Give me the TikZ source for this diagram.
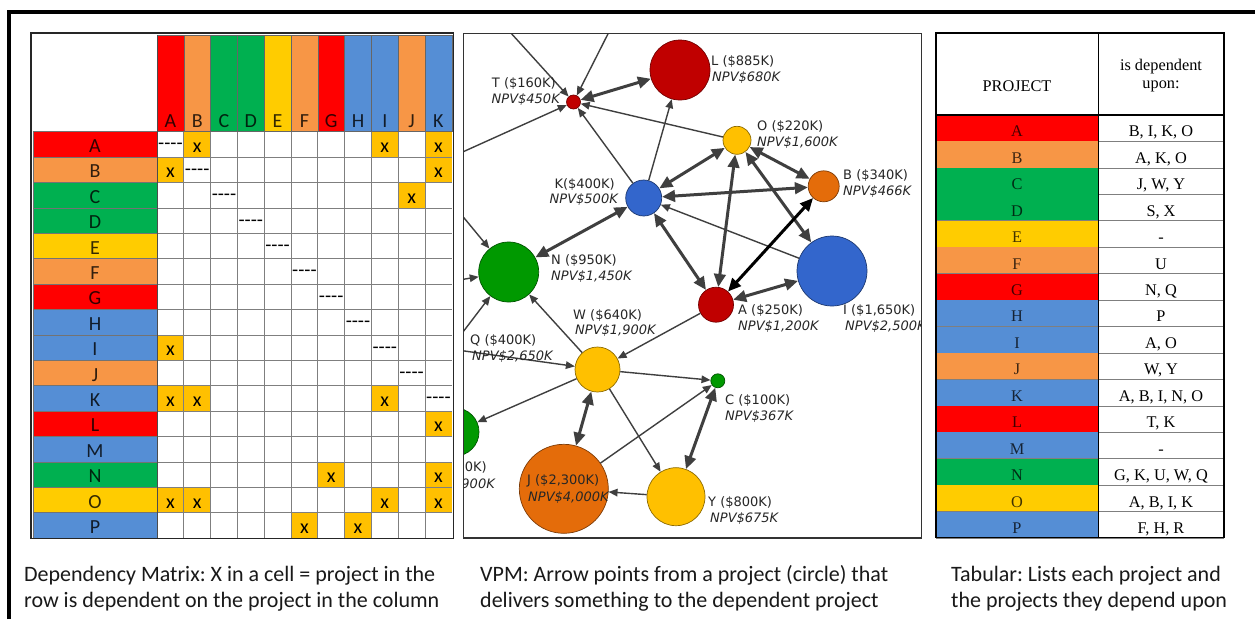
\documentclass[tikz,border=0pt]{standalone}
\usepackage{fontspec}
\setmainfont{Carlito}
\newfontfamily\netfont{DejaVu Sans}
\newfontfamily\tabfont{Liberation Serif}
\usetikzlibrary{arrows.meta}
\frenchspacing
\definecolor{mRed}{HTML}{FF0000}
\definecolor{mOrg}{HTML}{F79646}
\definecolor{mGrn}{HTML}{00B050}
\definecolor{mYel}{HTML}{FFCC00}
\definecolor{mBlu}{HTML}{558ED5}
\definecolor{mX}{HTML}{FFC000}
\definecolor{gridc}{HTML}{7F7F7F}
\definecolor{nRed}{HTML}{C00000}
\definecolor{nYel}{HTML}{FFC000}
\definecolor{nOrg}{HTML}{E46C0A}
\definecolor{nBlu}{HTML}{3366CC}
\definecolor{nGrn}{HTML}{009900}
\definecolor{edgec}{HTML}{3F3F3F}
\tikzset{
  mlet/.style={font=\fontsize{20}{23}\selectfont, inner sep=0, text=black},
  clet/.style={mlet, text opacity=0.8},
  vnode/.style={circle, draw, line width=0.7, inner sep=0, minimum size=#1},
  vlab/.style={font=\netfont\fontsize{13}{16}\selectfont, inner sep=0, text=black!85},
  vlabi/.style={vlab, font=\netfont\itshape\fontsize{13}{16}\selectfont},
  thin1/.style={draw=edgec, line width=1.4, -{Triangle[length=9,width=7.5]}},
  thick2/.style={draw=edgec, line width=3, {Triangle[length=13,width=11.5]}-{Triangle[length=13,width=11.5]}},
  tlet/.style={font=\tabfont\fontsize{16.3}{19}\selectfont, inner sep=0, text=black},
  captxt/.style={font=\fontsize{22}{26}\selectfont, inner sep=0, text=black!90, anchor=base west},
}
\begin{document}
\begin{tikzpicture}[x=1pt,y=-1pt]
\useasboundingbox (0,0) rectangle (1255,619);
\fill[white] (0,0) rectangle (1255,619);
% outer frame
\draw[line width=3.5] (9,619) -- (9,12) -- (1255,12);

% ================= MATRIX =================
\foreach \c/\l [count=\i from 0] in {mRed/A,mOrg/B,mGrn/C,mGrn/D,mYel/E,mOrg/F,mRed/G,mBlu/H,mBlu/I,mOrg/J,mBlu/K} {
  \path[fill=\c, draw=black!60, line width=0.6] (157+\i*26.8,35) rectangle (157+\i*26.8+26.8,131.7);
  \node[clet, anchor=base] (ch\l) at (157+\i*26.8+13.4,127) {\l};
}
\foreach \c/\l [count=\j from 0] in {mRed/A,mOrg/B,mGrn/C,mGrn/D,mYel/E,mOrg/F,mRed/G,mBlu/H,mBlu/I,mOrg/J,mBlu/K,mRed/L,mBlu/M,mGrn/N,mYel/O,mBlu/P} {
  \path[fill=\c, draw=black!55, line width=0.6] (33,131.7+\j*25.4) rectangle (157,131.7+\j*25.4+25.4);
  \node[clet, anchor=base] (rh\l) at (95,131.7+\j*25.4+20.8) {\l};
}
\foreach \r/\c in {0/1,0/8,0/10,1/0,1/10,2/9,8/0,10/0,10/1,10/8,11/10,13/6,13/10,14/0,14/1,14/8,14/10,15/5,15/7} {
  \fill[mX] (157+\c*26.8,131.7+\r*25.4) rectangle ++(26.8,25.4);
  \node[mlet, anchor=base] (x\r c\c) at (157+\c*26.8+13.4,131.7+\r*25.4+20.8) {x};
}
\foreach \i in {1,...,10} \draw[gridc, line width=0.8] (157+\i*26.8,131.7) -- (157+\i*26.8,538.1);
\foreach \j in {1,...,15} \draw[gridc, line width=0.8] (157,131.7+\j*25.4) -- (451.8,131.7+\j*25.4);
\draw[black!70, line width=0.8] (157,35) -- (157,538.1);
\foreach \k in {0,...,10} \node[mlet] (dg\k) at (157+\k*26.8+13.4,131.7+\k*25.4+15) {-{}-{}-{}-};
\draw[line width=1.8, black!85] (31,33) rectangle (453.5,538.5);

% ================= NETWORK =================
\begin{scope}
\clip (463.5,33.5) rectangle (921.5,538);
\node[vnode=14, fill=nRed, draw=nRed!60!black] (T) at (573.5,102) {};
\node[vnode=60, fill=nRed, draw=nRed!60!black] (L) at (680,70) {};
\node[vnode=28, fill=nYel, draw=nYel!55!black] (O) at (737,140.3) {};
\node[vnode=31, fill=nOrg, draw=nOrg!55!black] (B) at (823.7,186.3) {};
\node[vnode=36, fill=nBlu, draw=nBlu!55!black] (K) at (643.7,198) {};
\node[vnode=70, fill=nBlu, draw=nBlu!55!black] (I) at (832,271) {};
\node[vnode=35, fill=nRed, draw=nRed!60!black] (A) at (716,304.7) {};
\node[vnode=60, fill=nGrn, draw=nGrn!55!black] (N) at (508.7,272) {};
\node[vnode=45, fill=nYel, draw=nYel!55!black] (W) at (597.5,369.5) {};
\node[vnode=14, fill=nGrn, draw=nGrn!55!black] (C) at (717.8,380.8) {};
\node[vnode=89, fill=nOrg, draw=nOrg!55!black] (J) at (563.8,488.8) {};
\node[vnode=58, fill=nYel, draw=nYel!55!black] (Y) at (676,496.7) {};
\node[vnode=26, fill=nGrn, draw=nGrn!55!black] (Q) at (450,349) {};
\node[vnode=48, fill=nGrn, draw=nGrn!55!black] (G2) at (455,432) {};
\coordinate (p1) at (500,21);
\coordinate (p2) at (614.5,21);
\coordinate (p3) at (450,157.7);
\coordinate (p4) at (450,200.9);
\coordinate (p5) at (440,283);
% thin edges
\draw[thin1] (p1) -- (T);
\draw[thin1] (p2) -- (T);
\draw[thin1] (p3) -- (T);
\draw[thin1] (K) -- (T);
\draw[thin1] (O) -- (T);
\draw[thin1] (K) -- (L);
\draw[thin1] (I) -- (K);
\draw[thin1] (A) -- (W);
\draw[thin1] (p4) -- (N);
\draw[thin1] (p5) -- (N);
\draw[thin1] (Q) -- (N);
\draw[thin1] (W) -- (N);
\draw[thin1] (Q) -- (W);
\draw[thin1] (W) -- (G2);
\draw[thin1] (W) -- (C);
\draw[thin1] (W) -- (Y);
\draw[thin1] (J) -- (C);
\draw[thin1] (Y) -- (J);
% thick double edges
\draw[thick2] (T) -- (L);
\draw[thick2] (K) -- (O);
\draw[thick2] (K) -- (B);
\draw[thick2] (K) -- (N);
\draw[thick2] (K) -- (A);
\draw[thick2] (O) -- (B);
\draw[thick2] (A) -- (O);
\draw[thick2] (O) -- (I);
\draw[thick2] (A) -- (I);
\draw[thick2, draw=black] (A) -- (B);
\draw[thick2] (W) -- (J);
\draw[thick2] (C) -- (Y);
% labels
\node[vlab, anchor=base east] (lT1) at (556,87.7) {T (\$160K)};
\node[vlabi, anchor=base east] (lT2) at (560,103.7) {NPV\$450K};
\node[vlab, anchor=base west] (lL1) at (711,65.7) {L (\$885K)};
\node[vlabi, anchor=base west] (lL2) at (712,81.7) {NPV\$680K};
\node[vlab, anchor=base west] (lO1) at (757,130.7) {O (\$220K)};
\node[vlabi, anchor=base west] (lO2) at (757,146.7) {NPV\$1,600K};
\node[vlab, anchor=base west] (lB1) at (843,179.7) {B (\$340K)};
\node[vlabi, anchor=base west] (lB2) at (843,195.7) {NPV\$466K};
\node[vlab, anchor=base east] (lK1) at (615,188.7) {K(\$400K)};
\node[vlabi, anchor=base east] (lK2) at (618,203.7) {NPV\$500K};
\node[vlab, anchor=base west] (lN1) at (551,264.7) {N (\$950K)};
\node[vlabi, anchor=base west] (lN2) at (551,280.7) {NPV\$1,450K};
\node[vlab, anchor=base west] (lI1) at (843,314.7) {I (\$1,650K)};
\node[vlabi, anchor=base west] (lI2) at (845,330.7) {NPV\$2,500K};
\node[vlab, anchor=base west] (lA1) at (738,314.7) {A (\$250K)};
\node[vlabi, anchor=base west] (lA2) at (738,330.7) {NPV\$1,200K};
\node[vlab, anchor=base west] (lW1) at (573,319.7) {W (\$640K)};
\node[vlabi, anchor=base west] (lW2) at (575,334.7) {NPV\$1,900K};
\node[vlab, anchor=base west] (lQ1) at (470,344.7) {Q (\$400K)};
\node[vlabi, anchor=base west] (lQ2) at (472,360.7) {NPV\$2,650K};
\node[vlab, anchor=base east] (lG1) at (487,471.7) {0K)};
\node[vlabi, anchor=base east] (lG2) at (495,488.7) {900K};
\node[vlab, anchor=base west] (lC1) at (725,404.7) {C (\$100K)};
\node[vlabi, anchor=base west] (lC2) at (725,420.7) {NPV\$367K};
\node[vlab, anchor=base west] (lJ1) at (527,484.7) {J (\$2,300K)};
\node[vlabi, anchor=base west] (lJ2) at (528,501.7) {NPV\$4,000K};
\node[vlab, anchor=base west] (lY1) at (708,506.7) {Y (\$800K)};
\node[vlabi, anchor=base west] (lY2) at (710,522.7) {NPV\$675K};
\end{scope}
\draw[line width=1.3, black!80] (463.5,33.5) rectangle (921.5,538);

% ================= TABLE =================
\foreach \c/\l/\v [count=\j from 0] in {mRed/A/{B, I, K, O},mOrg/B/{A, K, O},mGrn/C/{J, W, Y},mGrn/D/{S, X},mYel/E/{-},mOrg/F/{U},mRed/G/{N, Q},mBlu/H/{P},mBlu/I/{A, O},mOrg/J/{W, Y},mBlu/K/{A, B, I, N, O},mRed/L/{T, K},mBlu/M/{-},mGrn/N/{G, K, U, W, Q},mYel/O/{A, B, I, K},mBlu/P/{F, H, R}} {
  \path[fill=\c] (936,115+\j*26.45) rectangle (1098.3,115+\j*26.45+26.45);
  \draw[gridc, line width=0.8] (936,115+\j*26.45+26.45) -- (1224,115+\j*26.45+26.45);
  \node[tlet, text opacity=0.75, anchor=base] (tp\l) at (1017,115+\j*26.45+21.8) {\l};
  \node[tlet, anchor=base] (tv\l) at (1161,115+\j*26.45+21.8) {\v};
}
\node[tlet, anchor=base] (thp) at (1017,91.3) {PROJECT};
\node[tlet, anchor=base] (thd1) at (1161,70.5) {is dependent};
\node[tlet, anchor=base] (thd2) at (1161,88.8) {upon:};
\draw[line width=1.2] (936,115) -- (1224,115);
\draw[line width=1.2] (1098.3,33) -- (1098.3,537.3);
\draw[line width=1.5] (936,33) rectangle (1224,537.3);

% ================= CAPTIONS =================
\node[captxt] (c1a) at (24,581) {Dependency Matrix: X in a cell = project in the};
\node[captxt] (c1b) at (24,607) {row is dependent on the project in the column};
\node[captxt] (c2a) at (480,581) {VPM: Arrow points from a project (circle) that};
\node[captxt] (c2b) at (480,607) {delivers something to the dependent project};
\node[captxt] (c3a) at (951,581) {Tabular: Lists each project and};
\node[captxt] (c3b) at (951,607) {the projects they depend upon};
\end{tikzpicture}
\end{document}
